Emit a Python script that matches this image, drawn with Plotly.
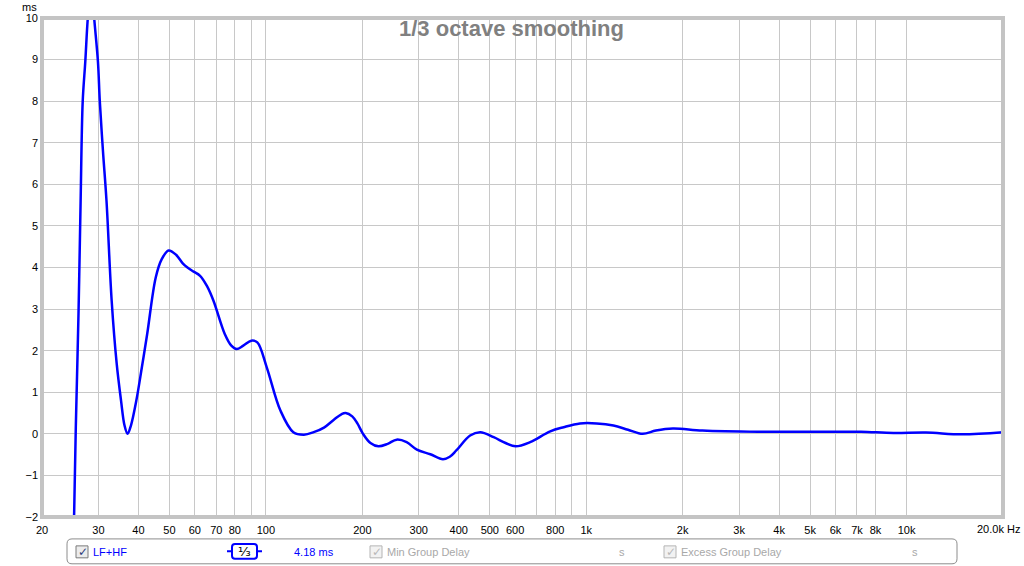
import numpy as np
import plotly.graph_objects as go

# ---- data ----
freq_hz = [25.0, 25.2, 25.5, 26.0, 26.4, 26.8, 27.3, 27.8, 28.5, 29.1, 29.9, 30.3, 31.0, 31.8,
           33.0, 34.2, 35.3, 36.2, 37.0, 37.9, 39.4, 41.0, 42.6, 45.3, 47.3, 49.7, 52.5, 55.0,
           56.9, 59.5, 62.3, 65.5, 68.6, 74.4, 78.0, 81.0, 85.0, 90.0, 94.0, 100.6, 111.0,
           121.8, 131.4, 141.0, 151.8, 163.0, 172.0, 177.4, 186.0, 193.0, 201.0, 212.0, 224.5,
           240.0, 256.0, 275.0, 296.0, 326.0, 357.0, 375.0, 393.0, 434.0, 467.0, 514.0, 560.0,
           602.0, 668.0, 772.0, 850.0, 956.0, 1078.0, 1216.0, 1350.0, 1500.0, 1650.0, 1864.0,
           2305.0, 3460.0, 5600.0, 7200.0, 9100.0, 11500.0, 14900.0, 20000.0]
delay_ms = [-2.6, -1.9, 0.15, 2.89, 5.6, 8.0, 8.95, 10.0, 10.9, 10.0, 8.95, 8.0, 6.8, 5.6,
            3.2, 1.7, 0.8, 0.2, 0.0, 0.2, 0.8, 1.6, 2.4, 3.76, 4.2, 4.41, 4.3, 4.1,
            4.0, 3.9, 3.8, 3.55, 3.2, 2.4, 2.12, 2.04, 2.12, 2.24, 2.2, 1.6, 0.56,
            0.04, -0.02, 0.04, 0.15, 0.34, 0.47, 0.50, 0.42, 0.25, 0.0, -0.22, -0.30,
            -0.24, -0.14, -0.2, -0.38, -0.49, -0.61, -0.55, -0.40, -0.04, 0.04, -0.08, -0.22,
            -0.30, -0.2, 0.06, 0.16, 0.25, 0.25, 0.2, 0.1, 0.0, 0.08, 0.13,
            0.08, 0.05, 0.05, 0.05, 0.02, 0.03, -0.01, 0.04]

x_grid = [20, 30, 40, 50, 60, 70, 80, 90, 100, 200, 300, 400, 500, 600, 700, 800, 900,
          1000, 2000, 3000, 4000, 5000, 6000, 7000, 8000, 10000, 20000]
x_labels = ["20", "30", "40", "50", "60", "70", "80", "", "100", "200", "300", "400", "500",
            "600", "", "800", "", "1k", "2k", "3k", "4k", "5k", "6k", "7k", "8k", "10k", ""]
y_ticks = [-2, -1, 0, 1, 2, 3, 4, 5, 6, 7, 8, 9, 10]

title_text = "1/3 octave smoothing"
legend_name = "LF+HF"
legend_value = "4.18 ms"

# ---- layout geometry (pixels) ----
W, H = 1024, 566
L, R, T, B = 42, 1003, 16, 517
FONT = "Liberation Sans, Arial, sans-serif"


def px(x):
    return (x - L) / (R - L)


def py(y):
    return (B - y) / (B - T)


def text_ann(text, x, y, size=11, color="#000000", family=FONT, xanchor="center"):
    return dict(text=text, xref="paper", yref="paper", x=px(x), y=py(y),
                xanchor=xanchor, yanchor="middle", showarrow=False,
                font=dict(family=family, size=size, color=color))


fig = go.Figure()
fig.add_trace(go.Scatter(x=freq_hz, y=delay_ms, mode="lines",
                         line=dict(color="#0000ff", width=2.5, shape="spline", smoothing=1.0),
                         hoverinfo="skip", showlegend=False))

shapes = []
annotations = []

# plot frame
shapes.append(dict(type="rect", xref="paper", yref="paper", x0=0, x1=1, y0=0, y1=1,
                   line=dict(color="#c4c4c4", width=4), layer="above"))

# title and units
annotations.append(text_ann("<b>" + title_text + "</b>", 511, 27, size=22, color="#808080"))
annotations.append(text_ann("ms", 29, 5))
annotations.append(text_ann("20.0k Hz", 998, 529))

# legend bar (rounded rectangle)
x0, x1, y0, y1, r = px(67), px(957), py(539), py(564), 5
rx = r / (R - L)
ry = r / (B - T)
path = (f"M {x0+rx},{y0} L {x1-rx},{y0} Q {x1},{y0} {x1},{y0-ry} "
        f"L {x1},{y1+ry} Q {x1},{y1} {x1-rx},{y1} L {x0+rx},{y1} "
        f"Q {x0},{y1} {x0},{y1+ry} L {x0},{y0-ry} Q {x0},{y0} {x0+rx},{y0} Z")
shapes.append(dict(type="path", xref="paper", yref="paper", path=path,
                   line=dict(color="#8c8c8c", width=1), fillcolor="rgba(0,0,0,0)"))


def checkbox(xl, active):
    shapes.append(dict(type="rect", xref="paper", yref="paper",
                       x0=px(xl), x1=px(xl + 12), y0=py(546), y1=py(558),
                       line=dict(color="#7a7a7a" if active else "#b4b4b4", width=1),
                       fillcolor="#ececec" if active else "#f2f2f2"))
    annotations.append(text_ann("✓", xl + 6.5, 552, size=12, family="DejaVu Sans",
                                color="#2c3a78" if active else "#b8b8b8"))


def label(text, xl, color):
    annotations.append(text_ann(text, xl, 552, color=color, xanchor="left"))


checkbox(76, True)
label(legend_name, 91, "#0000ff")
# smoothing symbol
shapes.append(dict(type="line", xref="paper", yref="paper", x0=px(227), x1=px(262),
                   y0=py(551.5), y1=py(551.5), line=dict(color="#0000ff", width=2)))
sx0, sx1, sy0, sy1, sr = px(232), px(257), py(544), py(559), 3
srx = sr / (R - L)
sry = sr / (B - T)
spath = (f"M {sx0+srx},{sy0} L {sx1-srx},{sy0} Q {sx1},{sy0} {sx1},{sy0-sry} "
         f"L {sx1},{sy1+sry} Q {sx1},{sy1} {sx1-srx},{sy1} L {sx0+srx},{sy1} "
         f"Q {sx0},{sy1} {sx0},{sy1+sry} L {sx0},{sy0-sry} Q {sx0},{sy0} {sx0+srx},{sy0} Z")
shapes.append(dict(type="path", xref="paper", yref="paper", path=spath,
                   line=dict(color="#0000ff", width=2), fillcolor="#ffffff"))
annotations.append(text_ann("¹⁄₃", 244.5, 551.5, size=13, family="DejaVu Sans"))
label(legend_value, 292, "#0000ff")
checkbox(370, False)
label("Min Group Delay", 385, "#a8a8a8")
label("s", 617, "#a8a8a8")
checkbox(664, False)
label("Excess Group Delay", 679, "#a8a8a8")
label("s", 910, "#a8a8a8")

fig.update_layout(
    width=W, height=H,
    margin=dict(l=L, r=W - R, t=T, b=H - B, pad=0),
    paper_bgcolor="#ffffff", plot_bgcolor="#ffffff",
    font=dict(family=FONT, size=11, color="#000000"),
    shapes=shapes, annotations=annotations,
    xaxis=dict(type="log", range=[np.log10(20), np.log10(20000)],
               tickmode="array", tickvals=x_grid, ticktext=x_labels,
               showgrid=True, gridcolor="#c8c8c8", gridwidth=1, zeroline=False,
               showline=False, ticks="", ticklabelstandoff=5,
               tickfont=dict(family=FONT, size=11, color="#000000")),
    yaxis=dict(range=[-2, 10], tickmode="array", tickvals=y_ticks,
               showgrid=True, gridcolor="#c8c8c8", gridwidth=1, zeroline=False,
               showline=False, ticks="", ticklabelstandoff=3,
               tickfont=dict(family=FONT, size=11, color="#000000")),
)

fig.write_html("out.html", config={"displayModeBar": False},
               post_script="document.body.style.margin='0';document.body.style.padding='0';")
